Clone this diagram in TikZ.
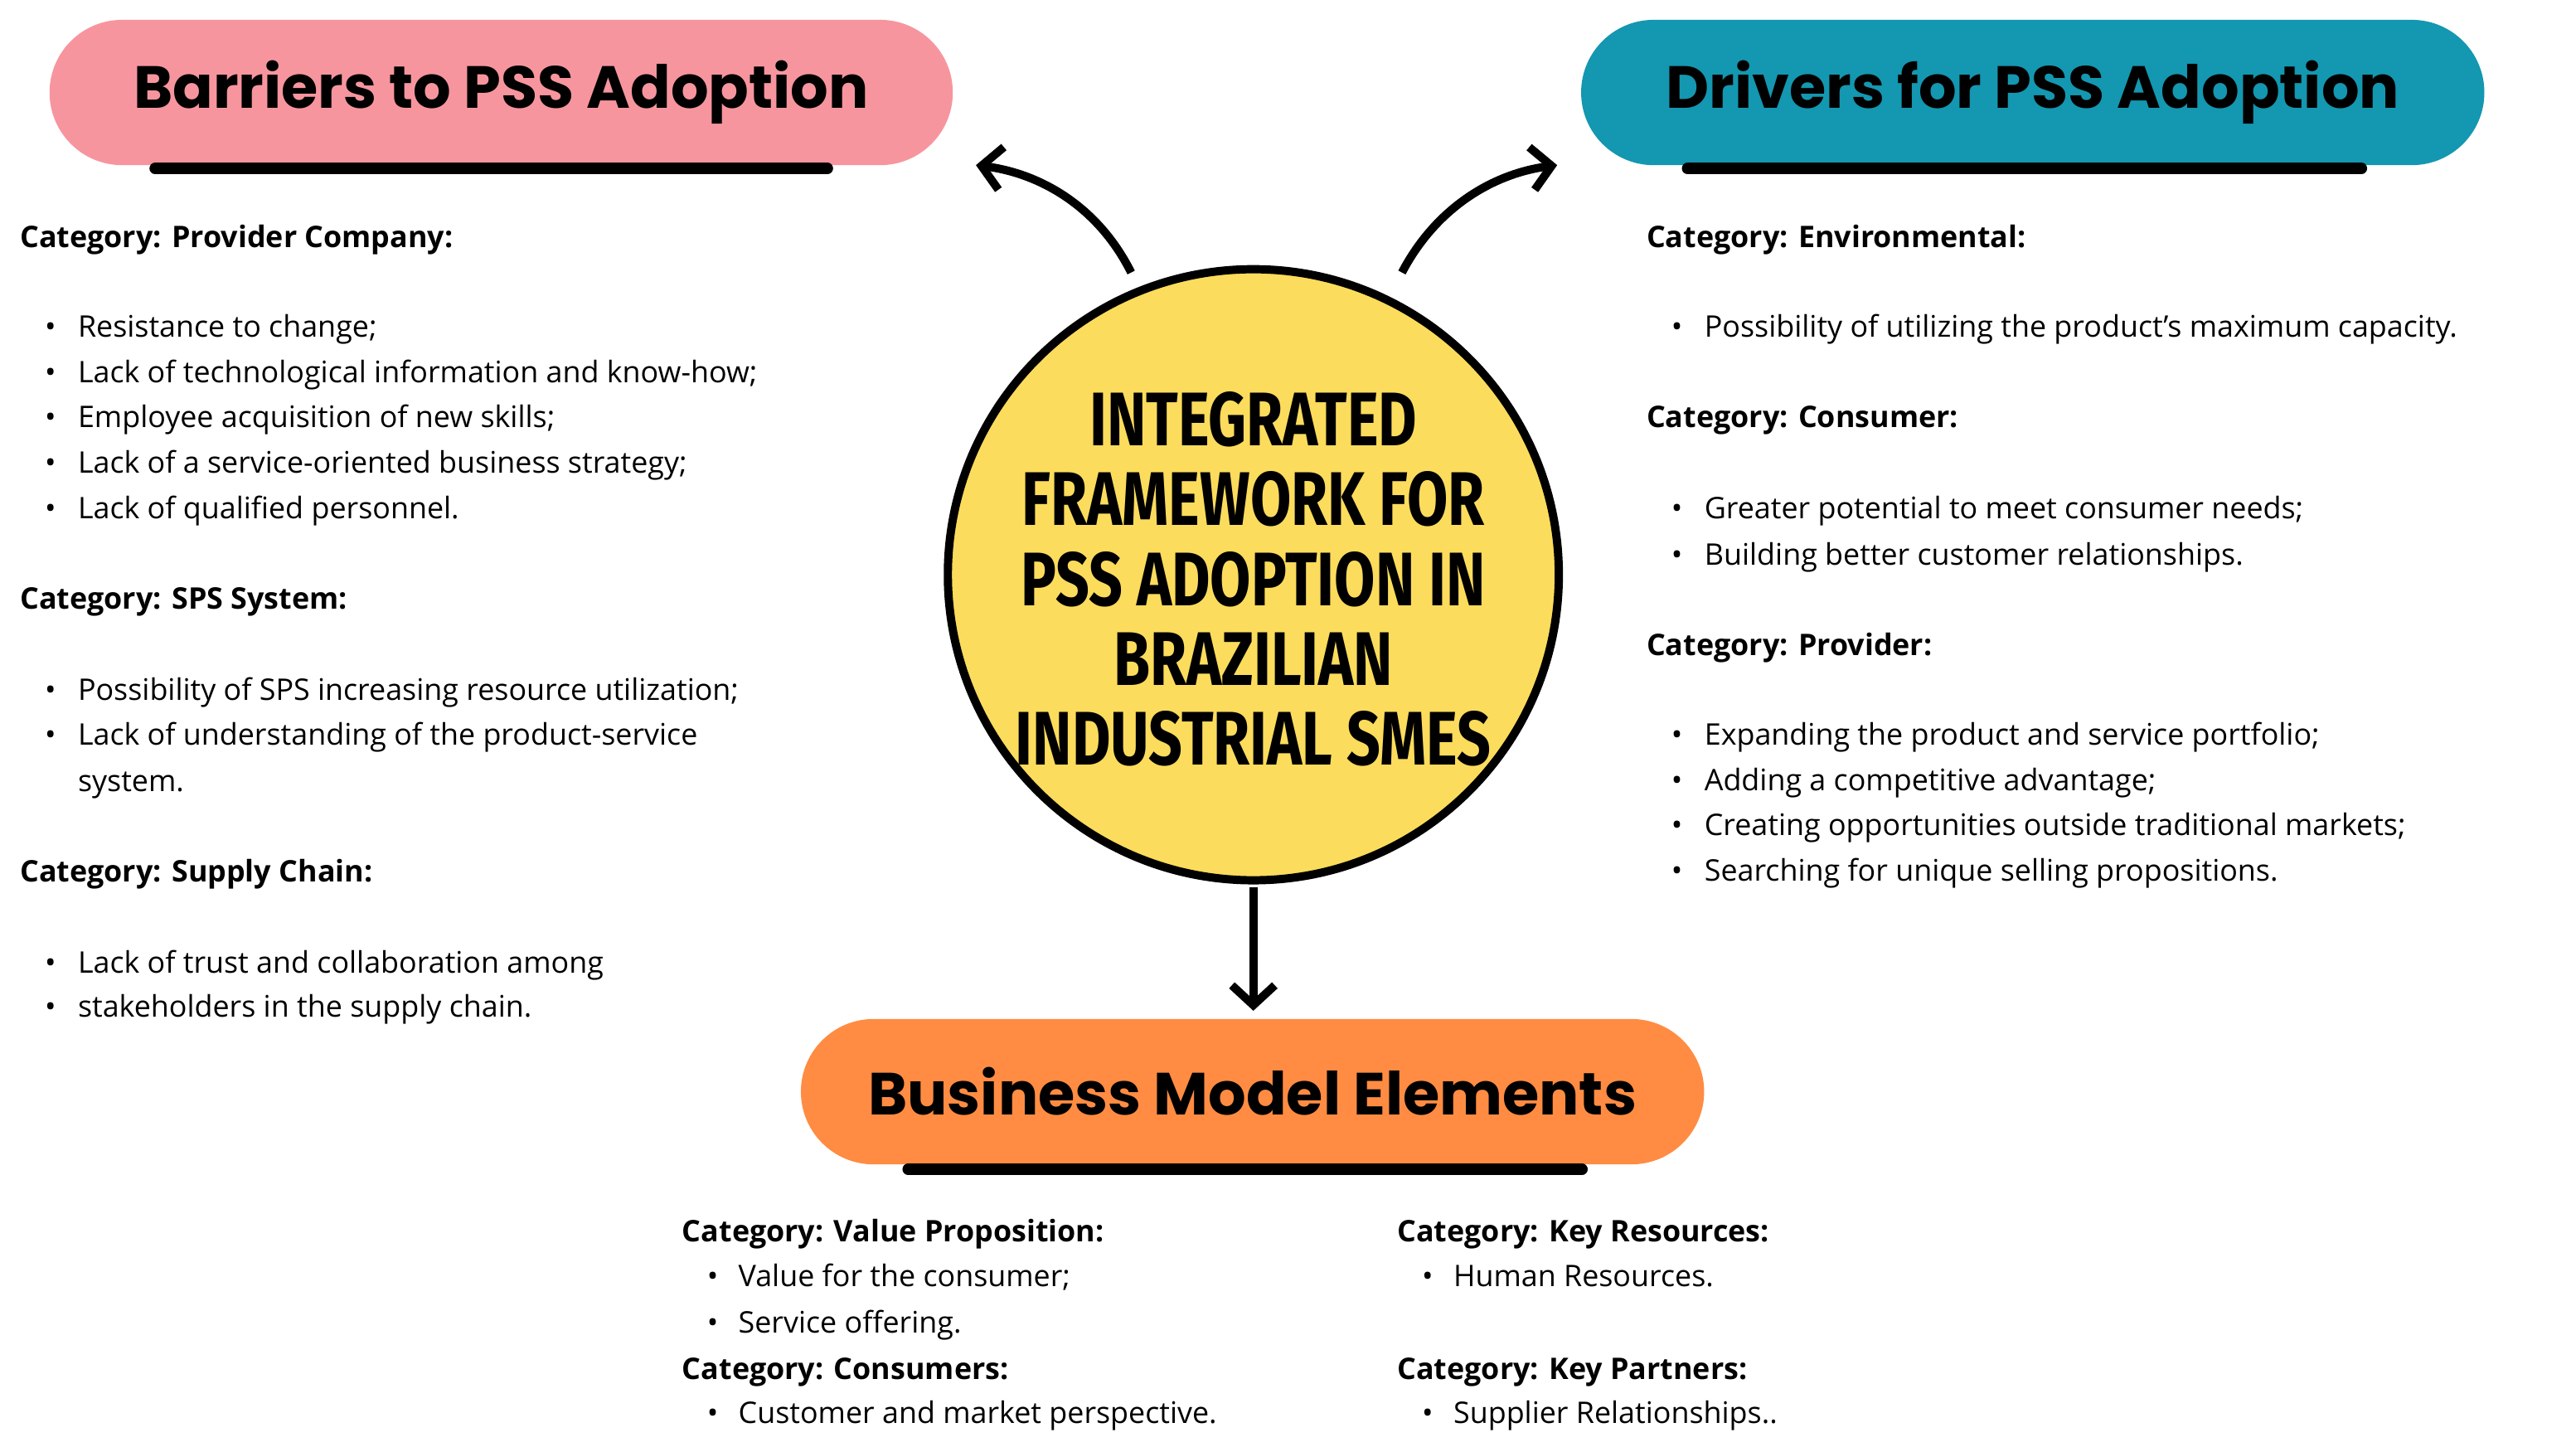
\documentclass[tikz,border=0pt]{standalone}
\usepackage{fontspec}
\setmainfont{Open Sans}
\newfontfamily\titlef{Poppins}
\newfontfamily\condf{Fira Sans}[FakeStretch=0.78]
\usetikzlibrary{arrows.meta}
\definecolor{pinkc}{HTML}{F7959E}
\definecolor{tealc}{HTML}{1497B0}
\definecolor{orangec}{HTML}{FF8C42}
\definecolor{yellowc}{HTML}{FCDC5C}
\begin{document}
\begin{tikzpicture}[x=1pt,y=-1pt,
  pill/.style={rounded corners=44pt,minimum width=547pt,minimum height=88pt,inner sep=0,font=\titlef\fontsize{36}{40}\selectfont\bfseries},
  bar/.style={line width=7pt,line cap=round},
  cat/.style={anchor=base west,inner sep=0,font=\fontsize{18}{20}\selectfont\bfseries},
  item/.style={anchor=base west,inner sep=0,font=\fontsize{18}{20}\selectfont},
  bul/.style={anchor=base west,inner sep=0,font=\fontsize{18}{20}\selectfont},
  arr/.style={line width=5pt,-{Straight Barb[length=12pt,width=26pt,line width=5pt]}}]
\useasboundingbox (0,0) rectangle (1560,875.7);
\node[pill,fill=pinkc] (bar) at (303.5,56) {Barriers to PSS Adoption};
\node[pill,fill=tealc] (drv) at (1231,56) {Drivers for PSS Adoption};
\node[pill,fill=orangec] (bme) at (758.5,661) {Business Model Elements};
\draw[bar] (94,102) -- (501,102);
\draw[bar] (1022,102) -- (1430,102);
\draw[bar] (550,708) -- (958,708);
\node[circle,draw=black,line width=5pt,fill=yellowc,minimum size=370pt,inner sep=0] (c) at (759,348) {};
\foreach \t [count=\i] in {INTEGRATED,FRAMEWORK FOR,PSS ADOPTION IN,BRAZILIAN,INDUSTRIAL SMES}
  \node[anchor=base,inner sep=0,font=\condf\fontsize{46}{48}\selectfont\bfseries] (ct\i) at (759,{253+48.3*(\i-1)+17}) {\t};
\coordinate (la) at (685,165); \coordinate (lb) at (591,100);
\coordinate (ra) at (849,165); \coordinate (rb) at (943,100);
\coordinate (da) at (759,537); \coordinate (db) at (759,612);
\draw[arr] (la) .. controls (665,125) and (630,105) .. (lb);
\draw[arr] (ra) .. controls (870,125) and (905,105) .. (rb);
\draw[arr] (da) -- (db);
% left column
\node[cat] (l1) at (12,150) {Category: Provider Company:};
\foreach \t [count=\i] in {Resistance to change;,Lack of technological information and know-how;,Employee acquisition of new skills;,Lack of a service-oriented business strategy;,Lack of qualified personnel.}{
  \node[bul] (lb\i) at (27,{204+27.5*(\i-1)}) {\textbullet};
  \node[item] (li\i) at (47,{204+27.5*(\i-1)}) {\t};}
\node[cat] (l2) at (12,369) {Category: SPS System:};
\node[bul] (lb6) at (27,424) {\textbullet};
\node[item] (li6) at (47,424) {Possibility of SPS increasing resource utilization;};
\node[bul] (lb7) at (27,451) {\textbullet};
\node[item] (li7) at (47,451) {Lack of understanding of the product-service};
\node[item] (li8) at (47,479) {system.};
\node[cat] (l3) at (12,534) {Category: Supply Chain:};
\node[bul] (lb9) at (27,589) {\textbullet};
\node[item] (li9) at (47,589) {Lack of trust and collaboration among};
\node[bul] (lb10) at (27,616) {\textbullet};
\node[item] (li10) at (47,616) {stakeholders in the supply chain.};
% right column
\node[cat] (r1) at (997,150) {Category: Environmental:};
\node[bul] (rb1) at (1012,204) {\textbullet};
\node[item] (ri1) at (1032,204) {Possibility of utilizing the product's maximum capacity.};
\node[cat] (r2) at (997,259) {Category: Consumer:};
\node[bul] (rb2) at (1012,314) {\textbullet};
\node[item] (ri2) at (1032,314) {Greater potential to meet consumer needs;};
\node[bul] (rb3) at (1012,342) {\textbullet};
\node[item] (ri3) at (1032,342) {Building better customer relationships.};
\node[cat] (r3) at (997,397) {Category: Provider:};
\foreach \t [count=\i] in {Expanding the product and service portfolio;,Adding a competitive advantage;,Creating opportunities outside traditional markets;,Searching for unique selling propositions.}{
  \node[bul] (rbb\i) at (1012,{451+27.5*(\i-1)}) {\textbullet};
  \node[item] (rii\i) at (1032,{451+27.5*(\i-1)}) {\t};}
% bottom
\node[cat] (b1) at (413,752) {Category: Value Proposition:};
\node[bul] (bb1) at (428,779) {\textbullet};
\node[item] (bi1) at (447,779) {Value for the consumer;};
\node[bul] (bb2) at (428,807) {\textbullet};
\node[item] (bi2) at (447,807) {Service offering.};
\node[cat] (b2) at (413,835) {Category: Consumers:};
\node[bul] (bb3) at (428,862) {\textbullet};
\node[item] (bi3) at (447,862) {Customer and market perspective.};
\node[cat] (b3) at (846,752) {Category: Key Resources:};
\node[bul] (bb4) at (861,779) {\textbullet};
\node[item] (bi4) at (880,779) {Human Resources.};
\node[cat] (b4) at (846,835) {Category: Key Partners:};
\node[bul] (bb5) at (861,862) {\textbullet};
\node[item] (bi5) at (880,862) {Supplier Relationships..};
\end{tikzpicture}
\end{document}
